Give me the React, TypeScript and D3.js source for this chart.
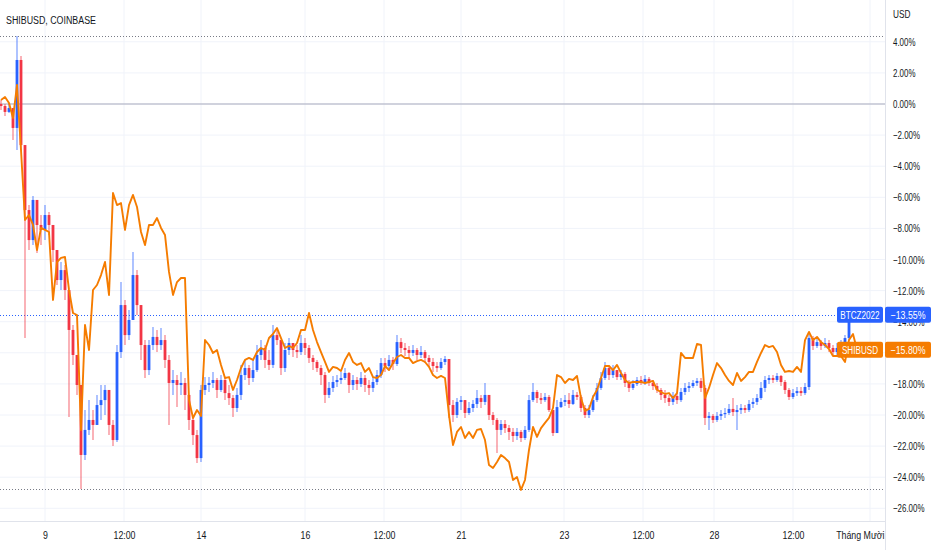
import React, { useEffect, useRef } from 'react';
import * as d3 from 'd3';

// BTCZ2022 candles, % change from first bar
const closes = [
  -0.13, -0.51, -0.26, -1.54, 2.83, -2.64, -6.82, -8.75, -6.17, -7.78,
  -8.10, -7.14, -7.78, -9.39, -11.32, -10.68, -11.96, -14.53, -16.14, -18.07,
  -22.57, -20.96, -20.32, -20.64, -19.36, -19.04, -18.39, -20.64, -21.61, -15.95,
  -12.93, -14.86, -13.89, -11.00, -12.93, -15.50, -17.11, -15.50, -14.98, -15.50,
  -15.18, -16.46, -17.94, -17.75, -18.07, -17.94, -18.71, -20.32, -21.29, -22.77,
  -18.39, -18.07, -17.94, -17.75, -18.39, -17.75, -18.59, -18.91, -19.55, -18.71,
  -17.43, -16.98, -17.62, -17.11, -16.14, -15.69, -16.46, -16.78, -14.86, -15.18,
  -16.98, -15.82, -15.37, -15.82, -15.95, -15.37, -15.69, -16.33, -16.59, -16.98,
  -17.43, -18.71, -18.26, -17.88, -17.75, -17.62, -17.30, -18.07, -17.75, -18.01,
  -17.62, -18.07, -18.26, -17.88, -17.43, -16.66, -16.85, -16.46, -16.72, -15.31,
  -15.69, -15.82, -16.01, -15.82, -16.14, -15.95, -16.33, -16.59, -16.85, -16.98,
  -16.59, -16.40, -19.36, -20.00, -19.16, -19.04, -19.87, -19.55, -19.29, -18.91,
  -19.16, -18.71, -20.00, -20.32, -20.96, -20.58, -20.84, -21.09, -21.35, -21.09,
  -21.48, -20.96, -19.04, -18.52, -18.91, -19.04, -18.84, -19.68, -21.16, -19.49,
  -19.16, -19.04, -19.29, -18.71, -18.84, -19.55, -20.00, -19.68, -19.04, -18.26,
  -17.62, -16.98, -17.43, -17.11, -17.56, -17.36, -17.94, -18.26, -18.01, -17.75,
  -17.88, -17.68, -17.94, -18.14, -18.39, -18.71, -18.91, -19.16, -18.78, -19.04,
  -18.52, -18.26, -18.14, -17.94, -17.81, -18.26, -20.19, -20.06, -20.32, -20.06,
  -19.94, -19.87, -19.61, -19.81, -19.68, -19.55, -19.68, -19.29, -19.16, -18.91,
  -18.26, -17.75, -17.62, -17.75, -17.49, -17.88, -18.39, -18.84, -18.59, -18.46,
  -18.59, -18.20, -15.05, -15.56, -15.31, -15.56, -15.37, -15.69, -15.95, -15.69,
  -15.44, -15.05, -13.55,
];

const highs = [
  0.26, 0, 0.06, -0.51, 4.37, 3.09, -2.64, -6.50, -5.92, -6.50,
  -7.14, -6.50, -6.95, -7.78, -9.39, -10.16, -10.35, -11.96, -14.21, -16.46,
  -18.07, -19.68, -19.04, -19.68, -18.71, -18.07, -18.07, -18.39, -20.32, -15.50,
  -11.45, -12.60, -13.25, -9.52, -10.68, -12.93, -15.18, -15.18, -14.34, -14.53,
  -14.41, -14.86, -16.14, -17.11, -17.43, -17.23, -17.62, -18.71, -20.00, -20.96,
  -18.07, -17.56, -17.56, -17.23, -17.62, -17.43, -17.56, -18.07, -18.71, -18.26,
  -16.78, -16.46, -16.78, -16.46, -15.50, -15.18, -15.50, -15.82, -14.21, -14.53,
  -15.18, -15.37, -15.05, -15.37, -15.50, -14.86, -15.05, -15.50, -16.14, -16.46,
  -16.78, -17.23, -17.88, -17.49, -17.43, -17.23, -16.98, -17.23, -17.43, -17.56,
  -17.23, -17.43, -17.75, -17.56, -17.11, -16.33, -16.33, -16.14, -16.27, -14.86,
  -15.05, -15.37, -15.56, -15.50, -15.69, -15.56, -15.82, -16.14, -16.33, -16.59,
  -16.33, -16.21, -16.46, -19.04, -18.91, -18.78, -19.04, -19.16, -19.04, -18.39,
  -18.71, -17.94, -18.71, -19.81, -20.19, -20.32, -20.32, -20.64, -20.84, -20.84,
  -20.96, -20.71, -18.71, -17.94, -18.39, -18.59, -18.59, -18.71, -20.84, -19.04,
  -18.91, -18.71, -18.59, -18.39, -18.52, -18.71, -19.36, -19.36, -18.71, -17.94,
  -17.23, -16.59, -16.78, -16.78, -17.11, -17.11, -17.23, -17.75, -17.75, -17.56,
  -17.49, -17.43, -17.56, -17.75, -17.94, -18.26, -18.39, -18.71, -18.52, -18.59,
  -18.26, -17.94, -17.88, -17.75, -17.62, -17.62, -18.07, -19.81, -19.94, -19.81,
  -19.68, -19.55, -19.29, -18.91, -19.36, -19.29, -19.36, -19.04, -18.91, -18.65,
  -17.88, -17.49, -17.43, -17.43, -17.30, -17.43, -17.75, -18.26, -18.33, -18.20,
  -18.20, -17.94, -14.73, -14.92, -14.98, -15.18, -15.05, -15.18, -15.50, -15.37,
  -15.18, -14.86, -13.38,
];

const lows = [
  -0.39, -0.77, -0.58, -2.32, -2.96, -2.96, -15.05, -9.39, -9.07, -9.58,
  -9.07, -8.75, -8.42, -10.16, -11.64, -11.96, -12.60, -20.13, -16.78, -18.71,
  -24.76, -22.89, -21.29, -21.61, -20.64, -20.32, -20.00, -21.29, -21.99, -21.74,
  -16.33, -15.50, -15.18, -13.89, -13.57, -16.46, -17.62, -17.43, -15.82, -15.95,
  -15.82, -16.98, -20.64, -18.71, -19.49, -18.71, -19.68, -20.96, -21.93, -23.09,
  -23.02, -18.71, -18.52, -18.26, -18.91, -18.52, -19.04, -19.36, -20.13, -19.81,
  -19.04, -17.75, -18.07, -17.88, -17.23, -16.46, -16.98, -17.11, -16.98, -15.50,
  -17.43, -17.23, -16.14, -16.27, -16.33, -16.14, -16.14, -16.66, -17.11, -17.23,
  -18.07, -19.23, -18.91, -18.52, -18.20, -18.01, -17.75, -18.59, -18.39, -18.39,
  -18.20, -18.52, -18.71, -18.52, -18.07, -17.62, -17.23, -17.11, -17.11, -16.85,
  -16.01, -16.21, -16.33, -16.21, -16.46, -16.33, -16.66, -16.91, -17.23, -17.23,
  -17.11, -16.78, -20.19, -20.45, -20.19, -19.68, -20.19, -20.00, -19.81, -19.55,
  -19.55, -19.36, -20.32, -20.64, -22.44, -21.29, -21.16, -21.61, -21.74, -21.61,
  -21.74, -21.61, -21.09, -19.16, -19.23, -19.29, -19.16, -19.81, -21.35, -21.16,
  -19.55, -19.42, -19.55, -19.36, -19.04, -19.81, -20.19, -20.19, -19.81, -19.16,
  -18.39, -17.75, -17.75, -17.62, -17.75, -17.75, -18.20, -18.52, -18.39, -18.14,
  -18.07, -18.07, -18.14, -18.39, -18.59, -19.04, -19.23, -19.42, -19.36, -19.29,
  -19.16, -18.71, -18.52, -18.26, -18.14, -18.52, -20.64, -20.96, -20.51, -20.45,
  -20.32, -20.19, -20.00, -20.06, -20.96, -19.94, -19.87, -19.81, -19.55, -19.36,
  -19.04, -18.52, -18.01, -17.94, -17.88, -18.14, -18.65, -19.04, -18.97, -18.78,
  -18.78, -18.71, -18.39, -15.82, -15.69, -15.82, -15.69, -15.95, -16.21, -16.14,
  -15.82, -15.56, -15.18,
];

// SHIBUSD compare line, % change, same bar index
const shibLine = [
  0.26, 0.45, 0.06, -0.90, 1.22, -2.96, -7.46, -7.14, -7.78, -9.39,
  -7.97, -8.10, -8.23, -12.60, -10.16, -9.90, -9.84, -11.96, -13.44, -13.57,
  -20.96, -14.21, -15.82, -11.96, -11.64, -11.00, -10.16, -12.28, -5.72, -6.50,
  -6.37, -8.10, -6.50, -5.85, -6.62, -8.23, -9.07, -7.78, -7.78, -7.33,
  -7.97, -8.42, -10.80, -12.28, -11.45, -11.19, -11.19, -19.04, -20.19, -19.68,
  -20.06, -15.18, -15.50, -16.01, -15.82, -16.78, -17.62, -17.56, -18.39, -17.75,
  -16.98, -16.46, -16.33, -16.46, -15.95, -15.69, -15.82, -15.05, -14.79, -14.41,
  -15.05, -15.69, -15.56, -15.69, -15.37, -14.53, -14.53, -13.44, -14.53, -15.31,
  -15.95, -16.59, -17.23, -16.91, -16.98, -17.17, -16.46, -16.01, -16.59, -16.78,
  -16.66, -17.23, -16.98, -17.56, -17.62, -17.43, -16.85, -17.11, -16.66, -16.27,
  -16.14, -16.33, -16.33, -16.66, -16.53, -16.46, -16.59, -16.91, -17.43, -17.62,
  -17.49, -17.62, -20.00, -21.93, -21.09, -20.77, -21.48, -21.09, -21.48, -20.96,
  -20.90, -21.61, -23.22, -23.41, -23.02, -22.57, -22.77, -23.02, -24.18, -23.99,
  -24.82, -24.18, -22.25, -20.77, -21.41, -20.84, -20.51, -20.19, -19.55, -17.43,
  -17.56, -17.94, -17.68, -17.75, -17.49, -18.91, -19.74, -19.61, -18.84, -18.39,
  -17.62, -16.85, -16.85, -17.11, -16.78, -17.30, -17.75, -17.94, -17.88, -17.88,
  -17.88, -17.94, -17.88, -17.81, -18.39, -18.52, -18.65, -18.59, -18.91, -18.59,
  -16.01, -16.33, -16.33, -16.33, -15.43, -15.50, -18.91, -18.26, -17.43, -16.66,
  -16.98, -17.43, -17.81, -18.07, -17.30, -17.81, -17.56, -17.23, -17.23, -16.59,
  -16.01, -15.50, -15.63, -15.56, -15.95, -16.78, -17.23, -17.17, -17.23, -16.91,
  -17.23, -15.18, -14.66, -15.18, -14.98, -15.31, -15.50, -15.76, -16.21, -16.21,
  -16.21, -16.59, -15.18, -14.79, -15.80,
];

const timeLabels = ['9', '12:00', '14', '16', '12:00', '21', '23', '12:00', '28', '12:00', 'Tháng Mười'];
const timeTickBars = [11, 30.75, 50, 76, 95.75, 115, 140.75, 160.5, 178.25, 198, 217.25];
const pctTicks = [4, 2, 0, -2, -4, -6, -8, -10, -12, -14, -16, -18, -20, -22, -24, -26];

const FONT = "'Liberation Sans', Arial, sans-serif";

const App: React.FC = () => {
  const svgRef = useRef<SVGSVGElement | null>(null);

  useEffect(() => {
    const svg = d3.select(svgRef.current);
    svg.selectAll('*').remove();

    const width = 932;
    const height = 550;
    const plotRight = 885;
    const plotBottom = 521;

    const x = d3.scaleLinear().domain([0, closes.length - 1]).range([1, 849]);
    const y = d3.scaleLinear().domain([0, -26]).range([104, 508.3]);
    const fmt = d3.format('.2f');

    // narrow text, like the screenshot's condensed labels
    const label = (
      tx: number,
      ty: number,
      txt: string,
      opts: { size?: number; sx?: number; anchor?: string; fill?: string } = {},
    ) =>
      svg
        .append('text')
        .attr('transform', `translate(${tx},${ty}) scale(${opts.sx ?? 0.78},1)`)
        .attr('dy', '0.35em')
        .attr('text-anchor', opts.anchor ?? 'start')
        .attr('font-family', FONT)
        .attr('font-size', opts.size ?? 11)
        .attr('fill', opts.fill ?? '#131722')
        .text(txt);

    svg.append('rect').attr('width', width).attr('height', height).attr('fill', '#fff');

    // grid
    svg
      .selectAll('.hgrid')
      .data(pctTicks)
      .join('line')
      .attr('class', 'hgrid')
      .attr('x1', 0)
      .attr('x2', plotRight)
      .attr('y1', (d) => y(d))
      .attr('y2', (d) => y(d))
      .attr('stroke', '#f0f3fa');

    svg
      .selectAll('.vgrid')
      .data(timeTickBars)
      .join('line')
      .attr('class', 'vgrid')
      .attr('x1', (d) => x(d))
      .attr('x2', (d) => x(d))
      .attr('y1', 0)
      .attr('y2', plotBottom)
      .attr('stroke', '#f0f3fa');

    // zero line
    svg
      .append('line')
      .attr('x1', 0)
      .attr('x2', plotRight)
      .attr('y1', y(0))
      .attr('y2', y(0))
      .attr('stroke', '#a9abbd');

    // high / low dotted lines
    const hi = d3.max(highs) as number;
    const lo = d3.min(lows) as number;
    [hi, lo].forEach((v) => {
      svg
        .append('line')
        .attr('x1', 0)
        .attr('x2', plotRight)
        .attr('y1', Math.round(y(v)) + 0.5)
        .attr('y2', Math.round(y(v)) + 0.5)
        .attr('stroke', '#787b86')
        .attr('stroke-dasharray', '1 2');
    });

    const last = closes[closes.length - 1];
    svg
      .append('line')
      .attr('x1', 0)
      .attr('x2', plotRight)
      .attr('y1', Math.round(y(last)) + 0.5)
      .attr('y2', Math.round(y(last)) + 0.5)
      .attr('stroke', '#2962ff')
      .attr('stroke-dasharray', '1 2');

    // candles
    const candles = closes.map((c, i) => ({
      i,
      o: i === 0 ? 0 : closes[i - 1],
      c,
      h: highs[i],
      l: lows[i],
    }));
    const bw = 2.8;
    const cg = svg.append('g');
    cg.selectAll('.wick')
      .data(candles)
      .join('line')
      .attr('class', 'wick')
      .attr('x1', (d) => x(d.i))
      .attr('x2', (d) => x(d.i))
      .attr('y1', (d) => y(Math.max(d.h, d.o, d.c)))
      .attr('y2', (d) => y(Math.min(d.l, d.o, d.c)))
      .attr('stroke', (d) => (d.c >= d.o ? '#2962ff' : '#f23645'))
      .attr('stroke-opacity', 0.55)
      .attr('stroke-width', 1.4);
    cg.selectAll('.body')
      .data(candles)
      .join('rect')
      .attr('class', 'body')
      .attr('x', (d) => x(d.i) - bw / 2)
      .attr('width', bw)
      .attr('y', (d) => y(Math.max(d.o, d.c)))
      .attr('height', (d) => Math.max(1.2, Math.abs(y(d.o) - y(d.c))))
      .attr('fill', (d) => (d.c >= d.o ? '#2962ff' : '#f23645'));

    // SHIBUSD compare line
    const line = d3
      .line<number>()
      .x((_, i) => x(i))
      .y((d) => y(d));
    svg
      .append('path')
      .datum(shibLine)
      .attr('d', line)
      .attr('fill', 'none')
      .attr('stroke', '#f57c00')
      .attr('stroke-width', 1.9)
      .attr('stroke-linejoin', 'round');

    // axis borders
    svg
      .append('line')
      .attr('x1', plotRight + 0.5)
      .attr('x2', plotRight + 0.5)
      .attr('y1', 0)
      .attr('y2', height)
      .attr('stroke', '#e0e3eb');
    svg
      .append('line')
      .attr('x1', 0)
      .attr('x2', plotRight)
      .attr('y1', plotBottom + 0.5)
      .attr('y2', plotBottom + 0.5)
      .attr('stroke', '#e0e3eb');

    // y axis
    const ySx = 0.72;
    const yAxis = d3
      .axisRight(y)
      .tickValues(pctTicks)
      .tickSize(0)
      .tickPadding(8)
      .tickFormat((d) => `${fmt(d as number)}%`);
    svg
      .append('g')
      .attr('transform', `translate(${plotRight}, 0)`)
      .call(yAxis)
      .call((g) => g.select('.domain').remove())
      .attr('font-family', FONT)
      .attr('font-size', 11)
      .selectAll('text')
      .attr('fill', '#131722')
      .attr('x', 8 / ySx)
      .attr('transform', `scale(${ySx},1)`);

    // x axis
    const xSx = 0.8;
    const xAxis = d3
      .axisBottom(x)
      .tickValues(timeTickBars)
      .tickSize(0)
      .tickPadding(10)
      .tickFormat((_, i) => timeLabels[i]);
    const xg = svg
      .append('g')
      .attr('transform', `translate(0, ${plotBottom})`)
      .call(xAxis)
      .call((g) => g.select('.domain').remove())
      .attr('font-family', FONT)
      .attr('font-size', 11);
    xg.selectAll('text').attr('fill', '#131722').attr('transform', `scale(${xSx},1)`);
    xg.selectAll<SVGTextElement, number>('text')
      .filter((_, i) => i === timeLabels.length - 1)
      .attr('text-anchor', 'end')
      .attr('x', 14 / xSx);

    // title + currency
    label(6, 20, 'SHIBUSD, COINBASE', { size: 11.5, sx: 0.77 });
    label(893, 14, 'USD', { sx: 0.75 });

    // last value badges
    const badges = [
      { name: 'BTCZ2022', value: last, color: '#2962ff' },
      { name: 'SHIBUSD', value: shibLine[shibLine.length - 1], color: '#f57c00' },
    ];
    badges.forEach((b) => {
      const cy = y(b.value);
      svg
        .append('rect')
        .attr('x', 837)
        .attr('y', cy - 8)
        .attr('width', 46)
        .attr('height', 16)
        .attr('rx', 2)
        .attr('fill', b.color);
      label(860, cy, b.name, { anchor: 'middle', fill: '#fff', sx: 0.74 });
      svg
        .append('rect')
        .attr('x', 885)
        .attr('y', cy - 8)
        .attr('width', 46)
        .attr('height', 16)
        .attr('rx', 2)
        .attr('fill', b.color);
      label(908, cy, `${fmt(b.value)}%`, { anchor: 'middle', fill: '#fff', sx: 0.8 });
    });
  }, []);

  return (
    <svg
      ref={svgRef}
      width={932}
      height={550}
      style={{ position: 'absolute', left: 0, top: 0, display: 'block' }}
    />
  );
};

export default App;
